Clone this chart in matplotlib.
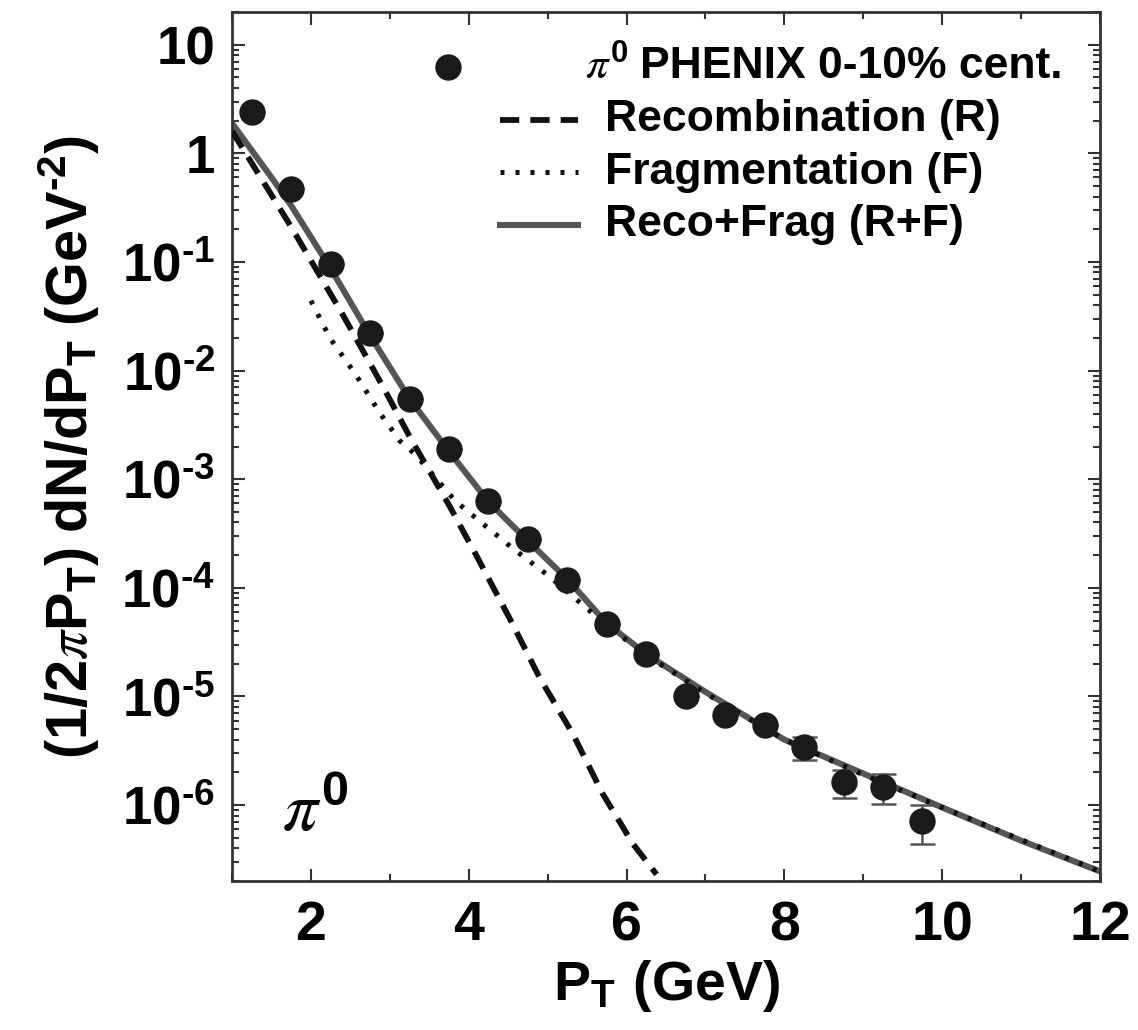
import matplotlib
matplotlib.use("Agg")
import matplotlib.pyplot as plt
from matplotlib.ticker import FixedLocator, NullFormatter, LogLocator, MultipleLocator
from matplotlib.lines import Line2D

plt.rcParams["font.family"] = ["Liberation Sans", "DejaVu Sans"]
plt.rcParams["font.weight"] = "bold"
plt.rcParams["mathtext.fontset"] = "custom"
plt.rcParams["mathtext.rm"] = "Liberation Sans:weight=bold"
plt.rcParams["mathtext.bf"] = "Liberation Sans:weight=bold"
plt.rcParams["mathtext.it"] = "STIXGeneral:style=italic:weight=normal"

HYPH = "\u2010"

# PHENIX pi0 data, 0-10% centrality
pt_data = [1.25, 1.75, 2.25, 2.75, 3.25, 3.75, 4.25, 4.75, 5.25,
           5.75, 6.25, 6.75, 7.25, 7.75, 8.25, 8.75, 9.25, 9.75]
y_data = [2.39, 0.466, 0.095, 0.022, 5.5e-3, 1.88e-3, 6.25e-4, 2.79e-4, 1.17e-4,
          4.6e-5, 2.45e-5, 1.0e-5, 6.8e-6, 5.4e-6, 3.4e-6, 1.62e-6, 1.48e-6, 7.2e-7]
y_err = [0, 0, 0, 0, 0, 0, 0, 0, 0,
         0, 0, 0, 0, 0, 8e-7, 4.7e-7, 4.6e-7, 2.8e-7]

# Recombination (R)
pt_reco = [1.0, 1.75, 2.4, 2.9, 3.26, 3.76, 4.11, 4.52, 4.9, 5.32, 5.7, 6.08, 6.38]
y_reco = [1.6, 0.21, 0.033, 7.4e-3, 2.4e-3, 5.6e-4, 1.9e-4, 5.2e-5, 1.48e-5,
          4.5e-6, 1.26e-6, 4.4e-7, 2.3e-7]

# Fragmentation (F)
pt_frag = [2.0, 2.24, 2.58, 2.88, 3.13, 3.32, 3.83, 4.14, 4.56, 5.03,
           5.75, 6.25, 7.0, 8.0, 9.0, 10.0, 11.0, 12.0]
y_frag = [0.044, 0.020, 8.9e-3, 4.0e-3, 2.24e-3, 1.7e-3, 6.3e-4, 4.1e-4, 2.3e-4, 1.26e-4,
          4.5e-5, 2.4e-5, 1.07e-5, 4.0e-6, 1.9e-6, 9.5e-7, 4.8e-7, 2.45e-7]

# Reco+Frag (R+F)
pt_sum = [1.0, 1.5, 1.75, 2.25, 2.75, 3.25, 3.75, 4.25, 4.75, 5.25, 5.75,
          6.25, 7.0, 8.0, 9.0, 10.0, 11.0, 12.0]
y_sum = [1.89, 0.60, 0.33, 0.087, 0.021, 5.5e-3, 1.8e-3, 6.2e-4, 2.7e-4, 1.2e-4, 4.7e-5,
         2.45e-5, 1.1e-5, 4.0e-6, 1.95e-6, 9.5e-7, 4.7e-7, 2.45e-7]

ytick_vals = [10, 1, 1e-1, 1e-2, 1e-3, 1e-4, 1e-5, 1e-6]
ytick_labels = ["10", "1"] + ["10$^{\\mathregular{%s%d}}$" % (HYPH, n) for n in range(1, 7)]

reco_style = dict(color="#111111", lw=4.2, dashes=(3.3, 1.9))
frag_style = dict(color="#111111", lw=3.6, dashes=(0.8, 2.2))
sum_style = dict(color="#555555", lw=4.4)

fig = plt.figure(figsize=(11.38, 10.3), dpi=100)
ax = fig.add_axes([0.2039, 0.1447, 0.7627, 0.8436])

ax.plot(pt_sum, y_sum, solid_capstyle="butt", zorder=2, **sum_style)
ax.plot(pt_reco, y_reco, zorder=3, **reco_style)
ax.plot(pt_frag, y_frag, zorder=4, **frag_style)
ax.errorbar(pt_data, y_data, yerr=y_err, fmt="o", color="#1a1a1a", ms=18,
            ecolor="#555555", elinewidth=1.8, capsize=9, capthick=1.8, zorder=5)

ax.set_yscale("log")
ax.set_xlim(1, 12)
ax.set_ylim(2.0e-7, 20)

ax.xaxis.set_major_locator(MultipleLocator(2))
ax.xaxis.set_minor_locator(MultipleLocator(1))
ax.yaxis.set_major_locator(FixedLocator(ytick_vals))
ax.yaxis.set_minor_locator(LogLocator(base=10, subs=range(2, 10), numticks=20))
ax.yaxis.set_minor_formatter(NullFormatter())
ax.set_yticks(ytick_vals)
ax.set_yticklabels(ytick_labels)

ax.tick_params(which="both", direction="in", top=True, right=True, width=1.5, colors="#333333")
ax.tick_params(which="major", length=9, pad=12)
ax.tick_params(which="minor", length=5)
ax.tick_params(axis="y", labelsize=38, labelcolor="black")
ax.tick_params(axis="x", labelsize=40, labelcolor="black", pad=14)
for sp in ax.spines.values():
    sp.set_linewidth(2)
    sp.set_color("#333333")

ax.set_xlabel(r"P$_{\mathregular{T}}$ (GeV)", fontsize=40, fontweight="bold", labelpad=4)
ylab = "$\\mathrm{(1/2}\\pi\\mathrm{P_T)\\ dN/dP_T\\ (GeV^{%s2})}$" % HYPH
ax.set_ylabel(ylab, fontsize=41.5, fontweight="normal", labelpad=14)

# legend drawn by hand to follow the original layout
tr = ax.transAxes
ax.add_line(Line2D([0.249], [0.937], transform=tr, marker="o", ms=18, color="#1a1a1a", ls="none"))
ax.text(0.407, 0.937, r"$\pi^{\mathrm{0}}$", transform=tr, fontsize=32,
        fontweight="normal", va="center", ha="left")
ax.text(0.470, 0.937, "PHENIX 0-10% cent.", transform=tr, fontsize=32, va="center", ha="left")
rows = [("Recombination (R)", reco_style),
        ("Fragmentation (F)", frag_style),
        ("Reco+Frag (R+F)", sum_style)]
for i, (label, style) in enumerate(rows):
    yy = 0.876 - i * 0.0605
    ax.add_line(Line2D([0.309, 0.399], [yy, yy], transform=tr, **style))
    ax.text(0.430, yy, label, transform=tr, fontsize=32, va="center", ha="left")

ax.text(0.058, 0.058, r"$\pi^{\mathrm{0}}$", transform=tr, fontsize=50,
        fontweight="normal", ha="left", va="baseline")

fig.savefig("out.png", dpi=100)
